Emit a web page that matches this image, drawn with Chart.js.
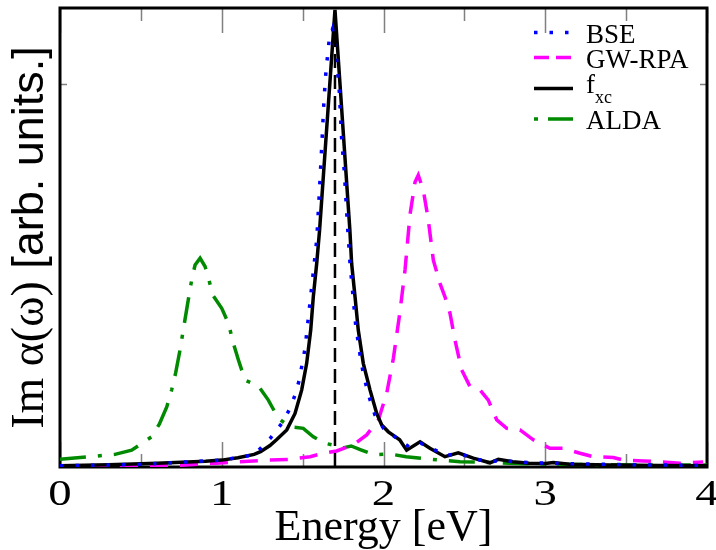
<!DOCTYPE html>
<html>
<head>
<meta charset="utf-8">
<script src="https://cdn.jsdelivr.net/npm/chart.js@4/dist/chart.umd.min.js"></script>
<style>
  html, body { margin: 0; padding: 0; background: #fff; }
  #c { display: block; }
</style>
</head>
<body>
<canvas id="c" width="716" height="550"></canvas>
<script>
// ---- Spectra: photon energy (eV) and Im α(ω) (arb. units) ----
const energyBSE = [0.00, 0.50, 1.00, 1.20, 1.30, 1.371, 1.422, 1.453, 1.479, 1.498, 1.515, 1.535, 1.556, 1.587,
  1.603, 1.618, 1.632, 1.645, 1.665, 1.685, 1.710, 1.727, 1.741, 1.758, 1.776, 1.793, 1.810, 1.828, 1.855,
  1.871, 1.892, 1.917, 1.947, 2.000, 2.050, 2.100, 2.160, 2.230, 2.290, 2.390, 2.460, 2.560, 2.660, 2.720,
  2.830, 3.000, 3.500, 4.000];
const imBSE = [0.003, 0.007, 0.018, 0.032, 0.075, 0.114, 0.153, 0.188, 0.227, 0.271, 0.310, 0.389, 0.471, 0.593,
  0.715, 0.837, 0.959, 1.038, 1.120, 1.145, 1.064, 0.980, 0.860, 0.770, 0.640, 0.532, 0.454, 0.371, 0.293,
  0.254, 0.214, 0.175, 0.136, 0.101, 0.085, 0.070, 0.052, 0.062, 0.050, 0.030, 0.036, 0.022, 0.013, 0.018,
  0.013, 0.010, 0.006, 0.004];

const energyGW = [0.00, 0.50, 0.773, 0.969, 1.278, 1.420, 1.546, 1.628, 1.710, 1.813, 1.896, 1.968, 2.020, 2.061,
  2.100, 2.133, 2.164, 2.195, 2.215, 2.246, 2.277, 2.308, 2.349, 2.380, 2.411, 2.442, 2.483, 2.535, 2.597,
  2.648, 2.700, 2.762, 2.844, 2.926, 3.029, 3.112, 3.215, 3.297, 3.421, 3.483, 3.606, 3.709, 3.833, 3.976];
const imGW = [0.002, 0.003, 0.005, 0.010, 0.018, 0.020, 0.027, 0.036, 0.042, 0.058, 0.084, 0.123, 0.193, 0.284,
  0.400, 0.515, 0.660, 0.745, 0.763, 0.724, 0.646, 0.541, 0.480, 0.445, 0.402, 0.332, 0.254, 0.210, 0.201,
  0.175, 0.123, 0.101, 0.097, 0.071, 0.049, 0.049, 0.036, 0.027, 0.025, 0.018, 0.016, 0.014, 0.010, 0.013];

const energyFxc = [0.00, 0.30, 0.60, 0.90, 1.00, 1.10, 1.20, 1.24, 1.298, 1.340, 1.402, 1.453, 1.494, 1.525, 1.550,
  1.566, 1.587, 1.605, 1.700, 1.792, 1.803, 1.824, 1.844, 1.875, 1.917, 1.958, 1.989, 2.030, 2.100, 2.143,
  2.226, 2.287, 2.380, 2.462, 2.555, 2.658, 2.710, 2.800, 2.900, 3.000, 3.050, 3.150, 3.400, 3.700, 4.000];
const imFxc = [0.003, 0.006, 0.010, 0.015, 0.018, 0.024, 0.033, 0.040, 0.056, 0.072, 0.097, 0.140, 0.201, 0.271, 0.358,
  0.445, 0.532, 0.620, 1.195, 0.620, 0.532, 0.445, 0.358, 0.271, 0.201, 0.140, 0.110, 0.092, 0.071, 0.044,
  0.066, 0.049, 0.027, 0.037, 0.023, 0.011, 0.020, 0.014, 0.010, 0.009, 0.012, 0.007, 0.005, 0.004, 0.003];

const energyALDA = [0.00, 0.34, 0.443, 0.567, 0.614, 0.660, 0.690, 0.715, 0.742, 0.762, 0.793, 0.814, 0.835, 0.866,
  0.897, 0.921, 0.944, 1.000, 1.041, 1.072, 1.103, 1.144, 1.226, 1.288, 1.350, 1.422, 1.504, 1.566, 1.638,
  1.710, 1.750, 1.800, 1.860, 1.940, 2.040, 2.140, 2.267, 2.473, 2.780, 2.970, 3.300, 3.700, 4.000];
const imALDA = [0.020, 0.033, 0.044, 0.079, 0.112, 0.157, 0.201, 0.246, 0.306, 0.358, 0.437, 0.489, 0.528, 0.546,
  0.524, 0.489, 0.450, 0.415, 0.376, 0.323, 0.280, 0.227, 0.212, 0.175, 0.127, 0.105, 0.101, 0.079, 0.062,
  0.055, 0.050, 0.055, 0.045, 0.032, 0.034, 0.027, 0.021, 0.014, 0.010, 0.008, 0.006, 0.005, 0.005];

// Vertical marker at the f_xc peak energy
const markerEnergy = [1.7, 1.7];
const markerIm = [0, 1.2];

// Axis ticks
const xMajorTicks = [0, 1, 2, 3, 4];
const xMinorTicks = [0.5, 1.5, 2.5, 3.5];
const yMajorTicks = [1.0];

const pts = (xs, ys) => xs.map((x, i) => ({ x: x, y: ys[i] }));

const SERIF = '"Liberation Serif", "Times New Roman", serif';
const SANS = '"Liberation Sans", Arial, sans-serif';

// Frame, inward tick marks, tick labels, axis titles and legend
const decorations = {
  id: 'decorations',
  beforeDatasetsDraw(chart) {
    const { ctx, chartArea: a, scales: { x, y } } = chart;
    ctx.save();
    ctx.strokeStyle = '#808080';
    ctx.lineWidth = 1.5;
    ctx.beginPath();
    const xt = (v, len) => {
      const px = Math.round(x.getPixelForValue(v)) + 0.5;
      ctx.moveTo(px, a.bottom); ctx.lineTo(px, a.bottom - len);
      ctx.moveTo(px, a.top); ctx.lineTo(px, a.top + len);
    };
    xMajorTicks.forEach(v => xt(v, 25));
    xMinorTicks.forEach(v => xt(v, 13));
    yMajorTicks.forEach(v => {
      const py = Math.round(y.getPixelForValue(v)) + 0.5;
      ctx.moveTo(a.left, py); ctx.lineTo(a.left + 7, py);
      ctx.moveTo(a.right, py); ctx.lineTo(a.right - 7, py);
    });
    ctx.stroke();
    ctx.strokeStyle = '#000';
    ctx.lineWidth = 3;
    ctx.strokeRect(a.left, a.top, a.right - a.left, a.bottom - a.top);
    ctx.restore();
  },
  afterDraw(chart) {
    const { ctx, chartArea: a, scales: { x } } = chart;
    ctx.save();
    ctx.fillStyle = '#000';

    // x tick labels (wide serif digits)
    ctx.font = '36px ' + SERIF;
    ctx.textAlign = 'center';
    ctx.textBaseline = 'alphabetic';
    xMajorTicks.forEach(v => {
      ctx.save();
      ctx.translate(x.getPixelForValue(v), 505);
      ctx.scale(1.3, 1);
      ctx.fillText(String(v), 0, 0);
      ctx.restore();
    });

    // x-axis title
    ctx.font = '44px ' + SERIF;
    ctx.fillText('Energy [eV]', (a.left + a.right) / 2, 540);

    // y-axis title, mixed serif / sans
    const p1 = 'Im α(ω)', p2 = ' [arb. units.]';
    const f1 = '46px ' + SERIF, f2 = '45px ' + SANS;
    ctx.font = f1; const w1 = ctx.measureText(p1).width;
    ctx.font = f2; const w2 = ctx.measureText(p2).width;
    ctx.translate(43, (a.top + a.bottom) / 2);
    ctx.rotate(-Math.PI / 2);
    ctx.textAlign = 'left';
    const x0 = -(w1 + w2) / 2;
    ctx.font = f1; ctx.fillText(p1, x0, 0);
    ctx.font = f2; ctx.fillText(p2, x0 + w1, 0);
    ctx.setTransform(1, 0, 0, 1, 0, 0);

    // legend
    const rows = [
      { sampleY: 32.5, baseY: 42.7 },
      { sampleY: 57.5, baseY: 68.3 },
      { sampleY: 88.5, baseY: 93.3 },
      { sampleY: 119, baseY: 129.3 }
    ];
    const entries = chart.data.datasets.filter(d => d.inLegend);
    entries.forEach((d, i) => {
      const r = rows[i];
      ctx.strokeStyle = d.borderColor;
      ctx.lineWidth = d.borderWidth;
      ctx.setLineDash(d.legendDash || []);
      ctx.beginPath();
      ctx.moveTo(534, r.sampleY); ctx.lineTo(573, r.sampleY);
      ctx.stroke();
      ctx.setLineDash([]);
      ctx.textAlign = 'left';
      ctx.font = '27px ' + SERIF;
      const parts = d.label.split('_');
      ctx.fillText(parts[0], 586, r.baseY);
      if (parts[1]) {
        const w = ctx.measureText(parts[0]).width;
        ctx.font = '18px ' + SERIF;
        ctx.fillText(parts[1], 586 + w, r.baseY + 10);
      }
    });
    ctx.restore();
  }
};

const common = { showLine: true, pointRadius: 0, pointHoverRadius: 0, tension: 0, fill: false, borderCapStyle: 'butt' };

new Chart(document.getElementById('c'), {
  type: 'scatter',
  data: {
    datasets: [
      Object.assign({ label: 'BSE', data: pts(energyBSE, imBSE), borderColor: '#0000ff', borderWidth: 3.5,
        borderDash: [3.5, 12], legendDash: [3.5, 12], inLegend: true, order: 1 }, common),
      Object.assign({ label: 'GW-RPA', data: pts(energyGW, imGW), borderColor: '#ff00ff', borderWidth: 3.5,
        borderDash: [18, 12], legendDash: [15, 7], inLegend: true, order: 3 }, common),
      Object.assign({ label: 'f_xc', data: pts(energyFxc, imFxc), borderColor: '#000000', borderWidth: 3.5,
        borderDash: [], legendDash: [], inLegend: true, order: 2 }, common),
      Object.assign({ label: 'ALDA', data: pts(energyALDA, imALDA), borderColor: '#008a00', borderWidth: 3.5,
        borderDash: [26, 12, 4, 12], legendDash: [4, 10, 26, 12], inLegend: true, order: 4 }, common),
      Object.assign({ label: 'peak', data: pts(markerEnergy, markerIm), borderColor: '#000000', borderWidth: 2.5,
        borderDash: [14, 7], inLegend: false, order: 0 }, common)
    ]
  },
  options: {
    responsive: false,
    animation: false,
    devicePixelRatio: 1,
    events: [],
    layout: { padding: { left: 0, right: 9, top: 8, bottom: 0 } },
    plugins: { legend: { display: false }, tooltip: { enabled: false } },
    scales: {
      x: {
        type: 'linear', min: 0, max: 4,
        afterFit(s) { s.height = 83; s.paddingLeft = 0; s.paddingRight = 0; },
        grid: { display: false, drawTicks: false },
        border: { display: false },
        ticks: { display: false, stepSize: 1 }
      },
      y: {
        type: 'linear', min: 0, max: 1.2,
        afterFit(s) { s.width = 60; },
        grid: { display: false, drawTicks: false },
        border: { display: false },
        ticks: { display: false }
      }
    }
  },
  plugins: [decorations]
});
</script>
</body>
</html>
